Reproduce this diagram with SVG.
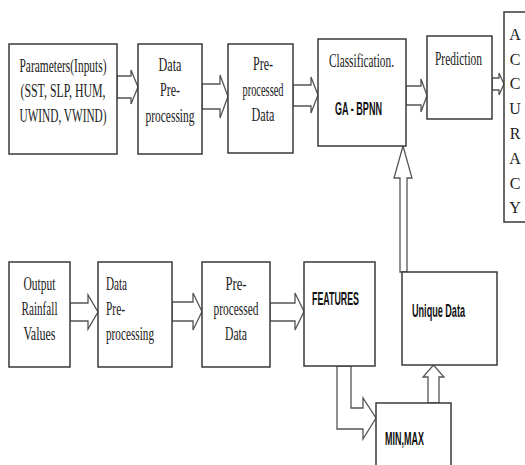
<svg xmlns="http://www.w3.org/2000/svg" width="525" height="465" viewBox="0 0 525 465">
<style>
.box{fill:#fff;stroke:#3a3a3a;stroke-width:1.5}
.arr{fill:#fff;stroke:#555;stroke-width:1.3;stroke-linejoin:miter}
.s{font-family:"Liberation Serif","Times New Roman",serif;font-size:18px;fill:#222}
.acc{font-size:16px}
.c{text-anchor:middle}
.b{font-family:"Liberation Sans",Arial,sans-serif;font-weight:bold;font-size:19px;fill:#111}
</style>
<rect width="525" height="465" fill="#fff"/>
<g id="connectors">
<polygon class="arr" points="117,76 131,76 131,70 138,87 131,104 131,98 117,98"/>
<polygon class="arr" points="202,84 220,84 220,75 228,96.5 220,118 220,109 202,109"/>
<polygon class="arr" points="293,85 311,85 311,77 318,95 311,113 311,106 293,106"/>
<polygon class="arr" points="406,86 421,86 421,79 427,95.5 421,112 421,105 406,105"/>
<polygon class="arr" points="492,78 499,78 499,73 504,84 499,95 499,90 492,90"/>
<polygon class="arr" points="70,303 88,303 88,295 98,312 88,329 88,321 70,321"/>
<polygon class="arr" points="172,302 193,302 193,293 202,311.5 193,330 193,321 172,321"/>
<polygon class="arr" points="270,303 295,303 295,293 304,311.5 295,330 295,321 270,321"/>
<polygon class="arr" points="400,272 400,178 394,178 403,146 412,178 407,178 407,272"/>
<polygon class="arr" points="428,403 428,377 423,377 433.5,365 444,377 439,377 439,403"/>
<polygon class="arr" points="337,366 337,429 363,429 363,439 376,418 363,398 363,408 351,408 351,366"/>
</g>
<g id="n-params">
<rect class="box" x="9" y="44" width="108" height="110"/>
<text class="s c" x="63" y="72" textLength="87" lengthAdjust="spacingAndGlyphs">Parameters(Inputs)</text>
<text class="s c" x="63" y="97" textLength="85" lengthAdjust="spacingAndGlyphs">(SST, SLP, HUM,</text>
<text class="s c" x="63" y="122" textLength="87" lengthAdjust="spacingAndGlyphs">UWIND, VWIND)</text>
</g>
<g id="n-prep1">
<rect class="box" x="138" y="44" width="64" height="110"/>
<text class="s c" x="170" y="71" textLength="23" lengthAdjust="spacingAndGlyphs">Data</text>
<text class="s c" x="170" y="96" textLength="20" lengthAdjust="spacingAndGlyphs">Pre-</text>
<text class="s c" x="170" y="122" textLength="49" lengthAdjust="spacingAndGlyphs">processing</text>
</g>
<g id="n-preproc1">
<rect class="box" x="228" y="44" width="65" height="109"/>
<text class="s c" x="263" y="70" textLength="20" lengthAdjust="spacingAndGlyphs">Pre-</text>
<text class="s c" x="263" y="96" textLength="41" lengthAdjust="spacingAndGlyphs">processed</text>
<text class="s c" x="263" y="121" textLength="23" lengthAdjust="spacingAndGlyphs">Data</text>
</g>
<g id="n-class">
<rect class="box" x="318" y="39" width="88" height="107"/>
<text class="s c" x="361.5" y="67" textLength="65" lengthAdjust="spacingAndGlyphs">Classification.</text>
<text class="b c" x="358.5" y="115" textLength="47" lengthAdjust="spacingAndGlyphs">GA - BPNN</text>
</g>
<g id="n-pred">
<rect class="box" x="427" y="36" width="65" height="83"/>
<text class="s c" x="458.5" y="65" textLength="47" lengthAdjust="spacingAndGlyphs">Prediction</text>
</g>
<g id="n-acc">
<rect class="box" x="504" y="12" width="30" height="210"/>
<text class="s acc c" x="515" y="40">A</text>
<text class="s acc c" x="515" y="65">C</text>
<text class="s acc c" x="515" y="89">C</text>
<text class="s acc c" x="515" y="114">U</text>
<text class="s acc c" x="515" y="139">R</text>
<text class="s acc c" x="515" y="164">A</text>
<text class="s acc c" x="515" y="189">C</text>
<text class="s acc c" x="515" y="213">Y</text>
</g>
<g id="n-output">
<rect class="box" x="9" y="262" width="61" height="105"/>
<text class="s c" x="39.5" y="290" textLength="32" lengthAdjust="spacingAndGlyphs">Output</text>
<text class="s c" x="39.5" y="315" textLength="36" lengthAdjust="spacingAndGlyphs">Rainfall</text>
<text class="s c" x="39.5" y="340" textLength="32" lengthAdjust="spacingAndGlyphs">Values</text>
</g>
<g id="n-prep2">
<rect class="box" x="98" y="262" width="74" height="105"/>
<text class="s" x="106" y="290" textLength="21" lengthAdjust="spacingAndGlyphs">Data</text>
<text class="s" x="106" y="315" textLength="19" lengthAdjust="spacingAndGlyphs">Pre-</text>
<text class="s" x="106" y="340" textLength="48" lengthAdjust="spacingAndGlyphs">processing</text>
</g>
<g id="n-preproc2">
<rect class="box" x="202" y="262" width="68" height="105"/>
<text class="s c" x="236" y="290" textLength="21" lengthAdjust="spacingAndGlyphs">Pre-</text>
<text class="s c" x="236" y="315" textLength="45" lengthAdjust="spacingAndGlyphs">processed</text>
<text class="s c" x="236" y="340" textLength="22" lengthAdjust="spacingAndGlyphs">Data</text>
</g>
<g id="n-features">
<rect class="box" x="304" y="262" width="71" height="104"/>
<text class="b" x="312" y="305" textLength="47" lengthAdjust="spacingAndGlyphs">FEATURES</text>
</g>
<g id="n-unique">
<rect class="box" x="402" y="272" width="95" height="93"/>
<text class="b" x="412" y="317" textLength="53" lengthAdjust="spacingAndGlyphs">Unique Data</text>
</g>
<g id="n-minmax">
<rect class="box" x="376" y="403" width="75" height="70"/>
<text class="b" x="385" y="445" textLength="39" lengthAdjust="spacingAndGlyphs">MIN,MAX</text>
</g>
</svg>
